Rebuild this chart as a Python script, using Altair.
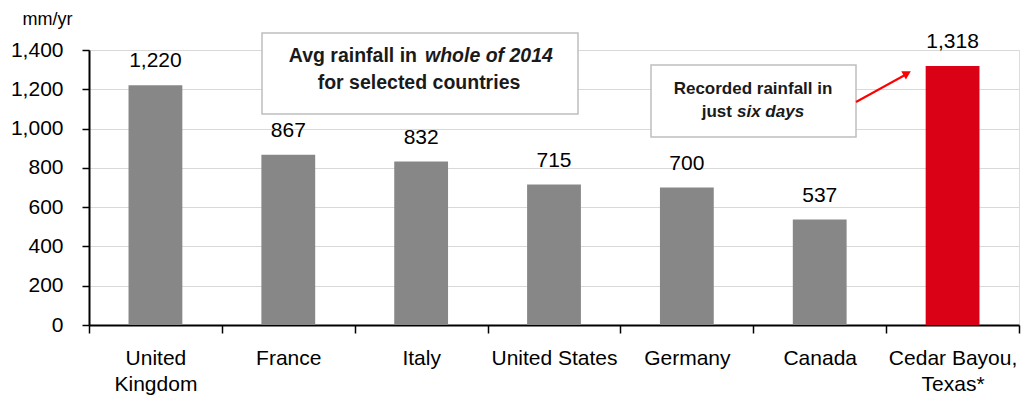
import altair as alt
import pandas as pd

countries = ["United Kingdom", "France", "Italy", "United States", "Germany", "Canada", "Cedar Bayou, Texas*"]
rainfall = [1220, 867, 832, 715, 700, 537, 1318]
highlight = [False, False, False, False, False, False, True]
y_ticks = [0, 200, 400, 600, 800, 1000, 1200, 1400]

FONT = "Liberation Sans, Arial, sans-serif"

df = pd.DataFrame({"country": countries, "rainfall": rainfall, "hl": highlight})

x_enc = alt.X(
    "country:N",
    sort=countries,
    title=None,
    scale=alt.Scale(paddingInner=0, paddingOuter=0),
    axis=alt.Axis(
        tickBand="extent",
        tickSize=8,
        tickColor="#000000",
        tickWidth=1.5,
        domainColor="#000000",
        domainWidth=2,
        labelAngle=0,
        labelFont=FONT,
        labelFontSize=21,
        labelColor="#000000",
        labelPadding=14,
        labelLineHeight=26,
        labelOverlap=False,
        labelExpr="datum.value == 'United Kingdom' ? ['United', 'Kingdom'] : datum.value == 'Cedar Bayou, Texas*' ? ['Cedar Bayou,', 'Texas*'] : datum.value",
        grid=False,
    ),
)

y_enc = alt.Y(
    "rainfall:Q",
    scale=alt.Scale(domain=[0, 1400], nice=False),
    axis=alt.Axis(
        values=y_ticks,
        tickCount=20,
        format=",.0f",
        title="mm/yr",
        titleAngle=0,
        titleFont=FONT,
        titleFontSize=18,
        titleFontWeight="normal",
        titleColor="#000000",
        titleX=-42,
        titleY=-31,
        titleAlign="center",
        titleBaseline="middle",
        tickSize=7,
        tickColor="#000000",
        tickWidth=1.5,
        domainColor="#000000",
        domainWidth=2,
        labelFont=FONT,
        labelFontSize=21,
        labelColor="#000000",
        labelPadding=19,
        labelOverlap=False,
        labelBound=False,
        grid=True,
        gridColor="#d9d9d9",
        gridWidth=1.2,
    ),
)

bars = alt.Chart(df).mark_bar(width=alt.RelativeBandSize(0.405)).encode(
    x=x_enc,
    y=y_enc,
    color=alt.condition("datum.hl", alt.value("#da0016"), alt.value("#878787")),
)

labels = alt.Chart(df).mark_text(
    font=FONT, fontSize=21, baseline="alphabetic", dy=-18, color="#000000"
).encode(
    x=x_enc,
    y=y_enc,
    text=alt.Text("rainfall:Q", format=","),
)

dummy = pd.DataFrame({"k": [0]})

def box(x1, x2, y1, y2):
    return alt.Chart(dummy).mark_rect(fill="#ffffff", stroke="#bfbfbf", strokeWidth=1.5).encode(
        x=alt.value(x1), x2=alt.value(x2), y=alt.value(y1), y2=alt.value(y2)
    )

def note(text, x, y, align, style, size):
    return alt.Chart(pd.DataFrame({"t": [text]})).mark_text(
        font=FONT, fontSize=size, fontWeight="bold", fontStyle=style,
        align=align, baseline="middle", color="#1a1a1a",
    ).encode(x=alt.value(x), y=alt.value(y), text="t:N")

annotations = [
    box(173, 489, -17, 64),
    box(562, 767, 15, 87),
    note("Avg rainfall in", 328, 6, "right", "normal", 19.5),
    note("whole of 2014", 336, 6, "left", "italic", 19.5),
    note("for selected  countries", 330, 33, "center", "normal", 19.5),
    note("Recorded rainfall in", 664, 39, "center", "normal", 17),
    note("just", 643, 62, "right", "normal", 17),
    note("six days", 648, 62, "left", "italic", 17),
]

arrow_line = alt.Chart(dummy).mark_rule(color="#ff0000", strokeWidth=2).encode(
    x=alt.value(767), x2=alt.value(816), y=alt.value(52), y2=alt.value(25)
)
arrow_head = alt.Chart(dummy).mark_point(
    shape="triangle", filled=True, color="#ff0000", size=90, angle=61, opacity=1
).encode(x=alt.value(817), y=alt.value(24))

chart = alt.layer(bars, labels, *annotations, arrow_line, arrow_head).properties(
    width=930,
    height=275,
    autosize=alt.AutoSizeParams(type="none"),
    padding={"left": 89, "top": 50, "right": 9, "bottom": 76},
).configure_view(stroke=None).configure(background="#ffffff")

chart.save("out.html", embed_options={"renderer": "svg", "actions": False})
